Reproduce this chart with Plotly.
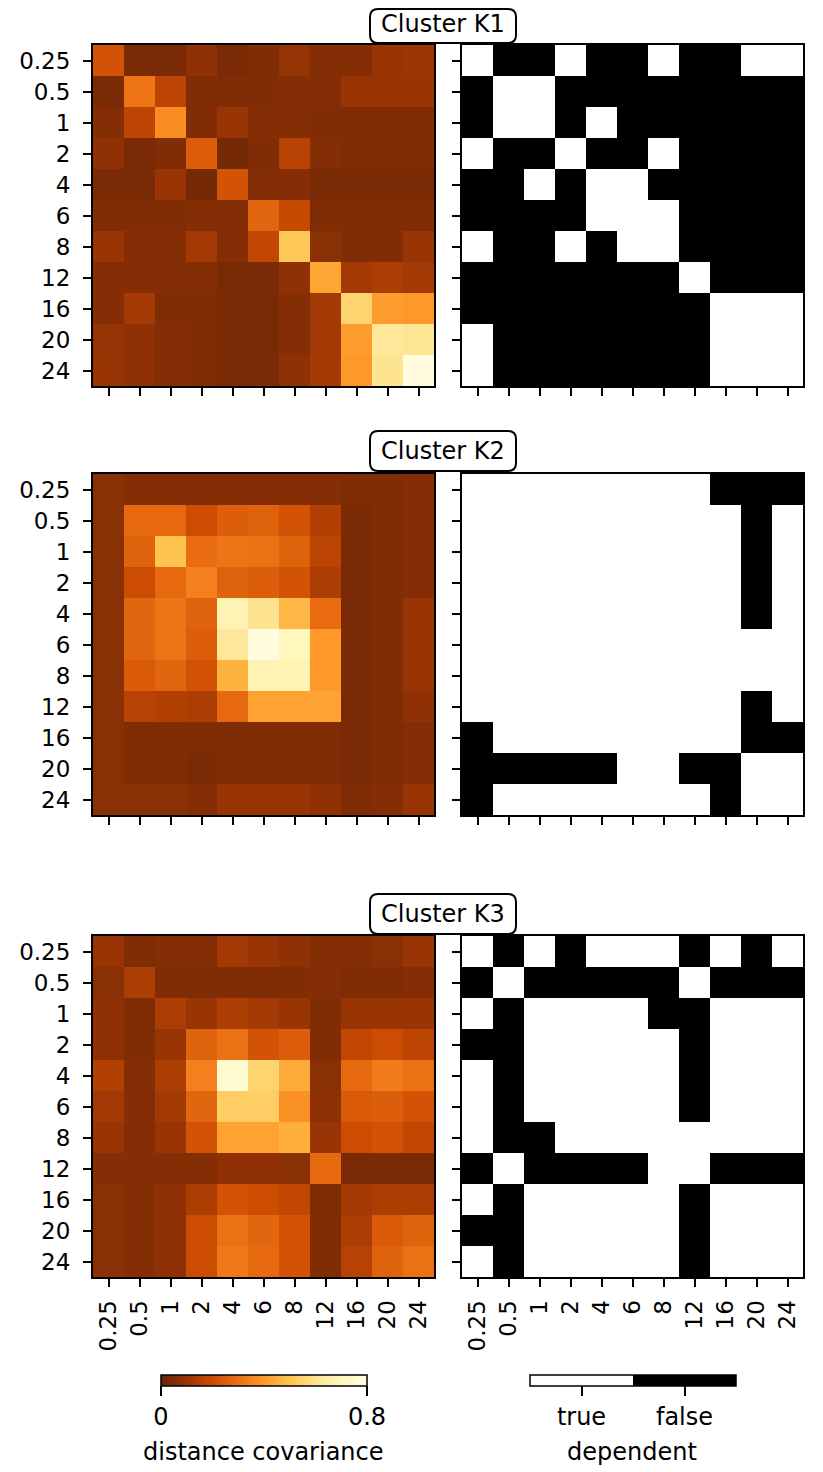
import plotly.graph_objects as go

scales = ["0.25", "0.5", "1", "2", "4", "6", "8", "12", "16", "20", "24"]
clusters = ["Cluster K1", "Cluster K2", "Cluster K3"]

k1_dcov = [
    [0.22, 0.04, 0.04, 0.08, 0.04, 0.05, 0.09, 0.06, 0.06, 0.10, 0.11],
    [0.04, 0.31, 0.17, 0.05, 0.05, 0.05, 0.06, 0.06, 0.10, 0.10, 0.10],
    [0.06, 0.17, 0.37, 0.05, 0.10, 0.06, 0.06, 0.05, 0.05, 0.05, 0.05],
    [0.08, 0.04, 0.05, 0.25, 0.03, 0.05, 0.16, 0.06, 0.05, 0.05, 0.05],
    [0.04, 0.04, 0.10, 0.03, 0.22, 0.06, 0.06, 0.04, 0.04, 0.04, 0.04],
    [0.05, 0.05, 0.05, 0.06, 0.06, 0.27, 0.19, 0.05, 0.05, 0.05, 0.05],
    [0.10, 0.06, 0.06, 0.12, 0.06, 0.18, 0.51, 0.07, 0.05, 0.05, 0.10],
    [0.06, 0.06, 0.06, 0.06, 0.04, 0.04, 0.08, 0.43, 0.12, 0.14, 0.12],
    [0.06, 0.12, 0.05, 0.05, 0.04, 0.04, 0.06, 0.12, 0.55, 0.41, 0.40],
    [0.09, 0.08, 0.06, 0.05, 0.04, 0.04, 0.06, 0.12, 0.41, 0.62, 0.61],
    [0.10, 0.08, 0.06, 0.05, 0.04, 0.04, 0.08, 0.12, 0.40, 0.60, 0.78],
]
k2_dcov = [
    [0.07, 0.06, 0.06, 0.06, 0.06, 0.06, 0.06, 0.06, 0.05, 0.05, 0.06],
    [0.07, 0.28, 0.28, 0.20, 0.25, 0.26, 0.22, 0.15, 0.04, 0.05, 0.06],
    [0.07, 0.26, 0.50, 0.29, 0.31, 0.30, 0.26, 0.17, 0.04, 0.05, 0.06],
    [0.07, 0.20, 0.28, 0.34, 0.26, 0.25, 0.22, 0.14, 0.04, 0.05, 0.06],
    [0.07, 0.27, 0.31, 0.26, 0.68, 0.60, 0.47, 0.29, 0.04, 0.05, 0.10],
    [0.07, 0.27, 0.31, 0.25, 0.62, 0.78, 0.70, 0.40, 0.04, 0.05, 0.10],
    [0.07, 0.24, 0.27, 0.22, 0.46, 0.68, 0.68, 0.40, 0.04, 0.05, 0.10],
    [0.07, 0.16, 0.15, 0.14, 0.28, 0.42, 0.42, 0.42, 0.04, 0.05, 0.08],
    [0.07, 0.05, 0.05, 0.05, 0.05, 0.05, 0.05, 0.05, 0.04, 0.05, 0.06],
    [0.07, 0.05, 0.05, 0.04, 0.05, 0.05, 0.05, 0.05, 0.04, 0.05, 0.06],
    [0.07, 0.07, 0.07, 0.06, 0.10, 0.10, 0.10, 0.08, 0.05, 0.06, 0.10],
]
k3_dcov = [
    [0.10, 0.05, 0.06, 0.06, 0.12, 0.10, 0.08, 0.06, 0.06, 0.07, 0.10],
    [0.07, 0.14, 0.05, 0.05, 0.05, 0.05, 0.05, 0.06, 0.05, 0.05, 0.06],
    [0.08, 0.05, 0.14, 0.10, 0.14, 0.12, 0.10, 0.05, 0.10, 0.10, 0.10],
    [0.08, 0.05, 0.10, 0.26, 0.30, 0.22, 0.25, 0.05, 0.18, 0.20, 0.17],
    [0.15, 0.06, 0.14, 0.34, 0.75, 0.55, 0.44, 0.07, 0.28, 0.33, 0.30],
    [0.12, 0.06, 0.12, 0.27, 0.53, 0.53, 0.38, 0.08, 0.24, 0.25, 0.22],
    [0.10, 0.06, 0.10, 0.22, 0.42, 0.42, 0.45, 0.10, 0.20, 0.22, 0.18],
    [0.06, 0.06, 0.06, 0.06, 0.08, 0.08, 0.07, 0.28, 0.04, 0.04, 0.04],
    [0.07, 0.06, 0.08, 0.14, 0.22, 0.20, 0.18, 0.05, 0.12, 0.14, 0.14],
    [0.07, 0.06, 0.08, 0.20, 0.30, 0.27, 0.22, 0.05, 0.14, 0.24, 0.26],
    [0.07, 0.06, 0.08, 0.20, 0.32, 0.28, 0.22, 0.05, 0.16, 0.26, 0.30],
]

# 1 = dependent (true), 0 = not dependent (false)
k1_dep = [
    [1, 0, 0, 1, 0, 0, 1, 0, 0, 1, 1],
    [0, 1, 1, 0, 0, 0, 0, 0, 0, 0, 0],
    [0, 1, 1, 0, 1, 0, 0, 0, 0, 0, 0],
    [1, 0, 0, 1, 0, 0, 1, 0, 0, 0, 0],
    [0, 0, 1, 0, 1, 1, 0, 0, 0, 0, 0],
    [0, 0, 0, 0, 1, 1, 1, 0, 0, 0, 0],
    [1, 0, 0, 1, 0, 1, 1, 0, 0, 0, 0],
    [0, 0, 0, 0, 0, 0, 0, 1, 0, 0, 0],
    [0, 0, 0, 0, 0, 0, 0, 0, 1, 1, 1],
    [1, 0, 0, 0, 0, 0, 0, 0, 1, 1, 1],
    [1, 0, 0, 0, 0, 0, 0, 0, 1, 1, 1],
]
k2_dep = [
    [1, 1, 1, 1, 1, 1, 1, 1, 0, 0, 0],
    [1, 1, 1, 1, 1, 1, 1, 1, 1, 0, 1],
    [1, 1, 1, 1, 1, 1, 1, 1, 1, 0, 1],
    [1, 1, 1, 1, 1, 1, 1, 1, 1, 0, 1],
    [1, 1, 1, 1, 1, 1, 1, 1, 1, 0, 1],
    [1, 1, 1, 1, 1, 1, 1, 1, 1, 1, 1],
    [1, 1, 1, 1, 1, 1, 1, 1, 1, 1, 1],
    [1, 1, 1, 1, 1, 1, 1, 1, 1, 0, 1],
    [0, 1, 1, 1, 1, 1, 1, 1, 1, 0, 0],
    [0, 0, 0, 0, 0, 1, 1, 0, 0, 1, 1],
    [0, 1, 1, 1, 1, 1, 1, 1, 0, 1, 1],
]
k3_dep = [
    [1, 0, 1, 0, 1, 1, 1, 0, 1, 0, 1],
    [0, 1, 0, 0, 0, 0, 0, 1, 0, 0, 0],
    [1, 0, 1, 1, 1, 1, 0, 0, 1, 1, 1],
    [0, 0, 1, 1, 1, 1, 1, 0, 1, 1, 1],
    [1, 0, 1, 1, 1, 1, 1, 0, 1, 1, 1],
    [1, 0, 1, 1, 1, 1, 1, 0, 1, 1, 1],
    [1, 0, 0, 1, 1, 1, 1, 1, 1, 1, 1],
    [0, 1, 0, 0, 0, 0, 1, 1, 0, 0, 0],
    [1, 0, 1, 1, 1, 1, 1, 0, 1, 1, 1],
    [0, 0, 1, 1, 1, 1, 1, 0, 1, 1, 1],
    [1, 0, 1, 1, 1, 1, 1, 0, 1, 1, 1],
]

dcov = [k1_dcov, k2_dcov, k3_dcov]
dep = [k1_dep, k2_dep, k3_dep]

# the page body has an 8px margin, so the figure sits at (8, 8) in the window
OFF = 8
W, H = 823 - OFF, 1472 - OFF
FONT = "DejaVu Sans, sans-serif"


def px(x):
    return (x - OFF) / W


def py(y):
    return 1 - (y - OFF) / H


def rounded_box(x0, y0, x1, y1, r):
    return (f"M {px(x0 + r)},{py(y0)} L {px(x1 - r)},{py(y0)} "
            f"Q {px(x1)},{py(y0)} {px(x1)},{py(y0 + r)} L {px(x1)},{py(y1 - r)} "
            f"Q {px(x1)},{py(y1)} {px(x1 - r)},{py(y1)} L {px(x0 + r)},{py(y1)} "
            f"Q {px(x0)},{py(y1)} {px(x0)},{py(y1 - r)} L {px(x0)},{py(y0 + r)} "
            f"Q {px(x0)},{py(y0)} {px(x0 + r)},{py(y0)} Z")


col_x = [(93, 434), (462, 803)]
row_y = [(45, 386), (474, 815), (936, 1277)]
title_y = [(9, 43), (431, 471), (894, 934)]
title_c = [24, 451, 914]

fig = go.Figure()
layout = dict()
axis_style = dict(type="category", showline=True, mirror=True, linecolor="black",
                  linewidth=2, ticks="outside", ticklen=8, tickwidth=1.5,
                  tickcolor="black", showgrid=False, zeroline=False,
                  tickfont=dict(size=23, color="black", family=FONT))

n = 0
for r in range(3):
    for c in range(2):
        n += 1
        sfx = "" if n == 1 else str(n)
        if c == 0:
            z = dcov[r]
            cax = "coloraxis"
        else:
            z = [[0 if v else 1 for v in row] for row in dep[r]]
            cax = "coloraxis2"
        fig.add_trace(go.Heatmap(z=z, x=scales, y=scales, coloraxis=cax,
                                 xaxis="x" + sfx, yaxis="y" + sfx))
        layout["xaxis" + sfx] = dict(axis_style, domain=[px(col_x[c][0]), px(col_x[c][1])],
                                     anchor="y" + sfx, tickangle=-90, ticklabelstandoff=4,
                                     showticklabels=(r == 2))
        layout["yaxis" + sfx] = dict(axis_style, domain=[py(row_y[r][1]), py(row_y[r][0])],
                                     anchor="x" + sfx, autorange="reversed",
                                     ticklabelstandoff=8, showticklabels=(c == 0))

shapes = []
annotations = []
for r in range(3):
    y0, y1 = title_y[r]
    shapes.append(dict(type="path", xref="paper", yref="paper",
                       path=rounded_box(370, y0, 516, y1, 8),
                       line=dict(color="black", width=2), fillcolor="white", layer="above"))
    annotations.append(dict(text=clusters[r], x=px(443), y=py(title_c[r]),
                            xref="paper", yref="paper", showarrow=False,
                            xanchor="center", yanchor="middle",
                            font=dict(size=24, color="black", family=FONT)))

# colorbar titles
for text, cx in [("distance covariance", 263), ("dependent", 632)]:
    annotations.append(dict(text=text, x=px(cx), y=py(1452), xref="paper", yref="paper",
                            showarrow=False, xanchor="center", yanchor="middle",
                            font=dict(size=24, color="black", family=FONT)))

cb_common = dict(orientation="h", lenmode="fraction", len=206 / W, thickness=11,
                 y=py(1375), yanchor="top", xanchor="center", xpad=0, ypad=0,
                 outlinewidth=1.5, outlinecolor="black", ticks="outside", ticklen=10,
                 tickwidth=1.5, tickcolor="black",
                 tickfont=dict(size=24, color="black", family=FONT))

layout["coloraxis"] = dict(
    colorscale="YlOrBr_r", cmin=0, cmax=0.8,
    colorbar=dict(cb_common, x=px(264), tickvals=[0, 0.8], ticktext=["0", "0.8"]))
layout["coloraxis2"] = dict(
    colorscale=[[0, "white"], [0.5, "white"], [0.5, "black"], [1, "black"]], cmin=0, cmax=1,
    colorbar=dict(cb_common, x=px(633), tickvals=[0.25, 0.75], ticktext=["true", "false"]))

fig.update_layout(**layout)
fig.update_layout(width=W, height=H, margin=dict(l=0, r=0, t=0, b=0),
                  paper_bgcolor="white", plot_bgcolor="white",
                  font=dict(family=FONT, color="black"),
                  shapes=shapes, annotations=annotations)

fig.write_html("out.html")
